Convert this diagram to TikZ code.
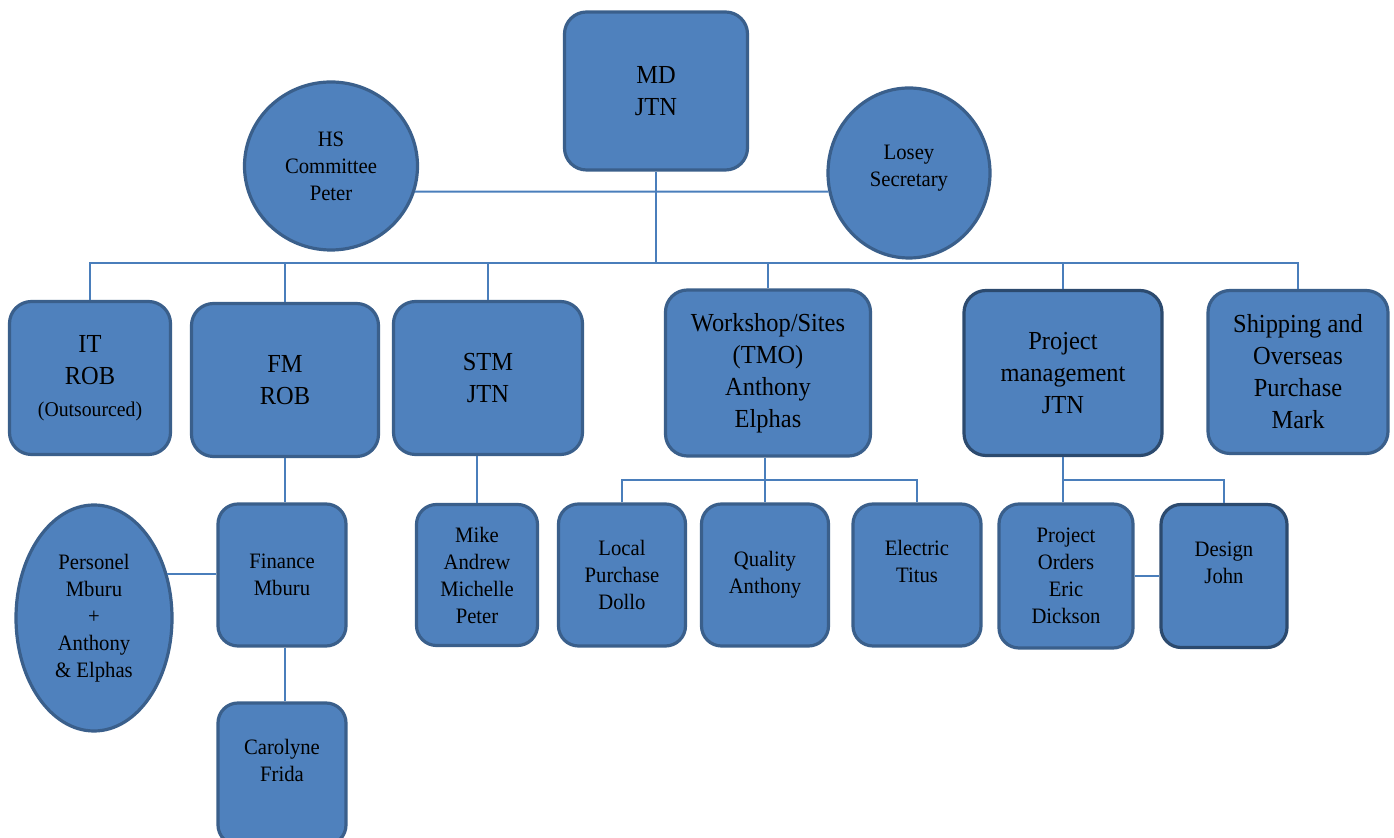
\documentclass[tikz,border=0pt]{standalone}
\usepackage{fontspec}
\setmainfont{Liberation Serif}[FakeStretch=0.94]
\usepackage{tikz}
\usetikzlibrary{shapes.geometric}
\definecolor{boxfill}{HTML}{4F81BD}
\definecolor{boxline}{HTML}{3A5F8B}
\definecolor{boxdark}{HTML}{2C4A6E}
\definecolor{linkcol}{HTML}{4A7EBB}
\tikzset{
  unit/.style={draw=boxline, fill=boxfill, line width=1.6pt, rounded corners=11pt,
    align=center, inner sep=0pt, font=\fontsize{13}{16}\selectfont},
  subunit/.style={unit, rounded corners=10pt, font=\fontsize{11}{13.5}\selectfont},
  oval/.style={ellipse, draw=boxline, fill=boxfill, line width=1.6pt, align=center,
    inner sep=0pt, font=\fontsize{11}{13.5}\selectfont},
  link/.style={draw=linkcol, line width=1pt}
}

\begin{document}
\begin{tikzpicture}[x=0.5pt, y=-0.5pt]
    \clip (0,0) rectangle (1394,838);

    % Top level
    \node[unit, minimum width=91.5pt, minimum height=79pt] (md) at (656,91) {MD\\JTN};
    \node[oval, minimum width=86.5pt, minimum height=84pt] (hs) at (331,166) {HS\\Committee\\Peter};
    \node[oval, minimum width=81pt, minimum height=85pt] (losey) at (909,173) {Losey\\Secretary\\[-6pt]};
    \draw[link] (hs.-17) -- (losey.193);
    \coordinate (bus) at (656,263);
    \draw[link] (md.south) -- (bus);

    % Departments
    \node[unit, minimum width=80.5pt, minimum height=76.5pt] (it) at (90,378)
        {IT\\ROB\\{\fontsize{10.5}{13}\selectfont (Outsourced)}};
    \node[unit, minimum width=93.5pt, minimum height=76.5pt] (fm) at (285,380) {FM\\ROB};
    \node[unit, minimum width=94.5pt, minimum height=76.5pt] (stm) at (488,378) {STM\\JTN};
    \node[unit, minimum width=102.5pt, minimum height=83pt] (shop) at (768,373)
        {Workshop/Sites\\(TMO)\\Anthony\\Elphas};
    \node[unit, draw=boxdark, minimum width=99pt, minimum height=82.5pt] (pm) at (1063,373)
        {Project\\management\\JTN};
    \node[unit, minimum width=90pt, minimum height=81.5pt] (ship) at (1298,372)
        {Shipping and\\Overseas\\Purchase\\Mark};
    \foreach \n in {it,fm,stm,shop,pm,ship}
        \draw[link] (bus) -| (\n.north);

    % Finance branch
    \node[subunit, minimum width=64pt, minimum height=71pt] (fin) at (282,575) {Finance\\Mburu};
    \node[subunit, minimum width=64pt, minimum height=71pt] (carol) at (282,774) {Carolyne\\Frida\\[0pt]};
    \node[oval, minimum width=78pt, minimum height=113pt] (pers) at (94,618)
        {Personel\\Mburu\\+\\Anthony\\\& Elphas};
    \draw[link] (fm.south) -- (fm.south |- fin.north);
    \draw[link] (fm.south |- fin.south) -- (fm.south |- carol.north);
    \draw[link] (pers.31) -- (pers.31 -| fin.west);

    % STM staff
    \node[subunit, minimum width=60.5pt, minimum height=70.5pt] (staff) at (477,575)
        {Mike\\Andrew\\Michelle\\Peter};
    \draw[link] (staff.north) -- (staff.north |- stm.south);

    % Workshop sections
    \node[subunit, minimum width=63.5pt, minimum height=71pt] (local) at (622,575)
        {Local\\Purchase\\Dollo};
    \node[subunit, minimum width=63.5pt, minimum height=71pt] (quality) at (765,575)
        {Quality\\Anthony};
    \node[subunit, minimum width=64pt, minimum height=71pt] (electric) at (917,575)
        {Electric\\Titus\\[0pt]};
    \coordinate (wbus) at (762,480);
    \draw[link] (quality.north) -- (quality.north |- shop.south);
    \draw[link] (wbus) -| (local.north);
    \draw[link] (wbus) -| (electric.north);

    % Project sections
    \node[subunit, minimum width=67pt, minimum height=72pt] (orders) at (1066,576)
        {Project\\Orders\\Eric\\Dickson};
    \node[subunit, draw=boxdark, minimum width=63pt, minimum height=71.5pt] (design) at (1224,576)
        {Design\\John\\[0pt]};
    \coordinate (pbus) at (1063,480);
    \draw[link] (pm.south) -- (pm.south |- orders.north);
    \draw[link] (pbus) -| (design.north);
    \draw[link] (orders.east) -- (design.west);
\end{tikzpicture}
\end{document}
